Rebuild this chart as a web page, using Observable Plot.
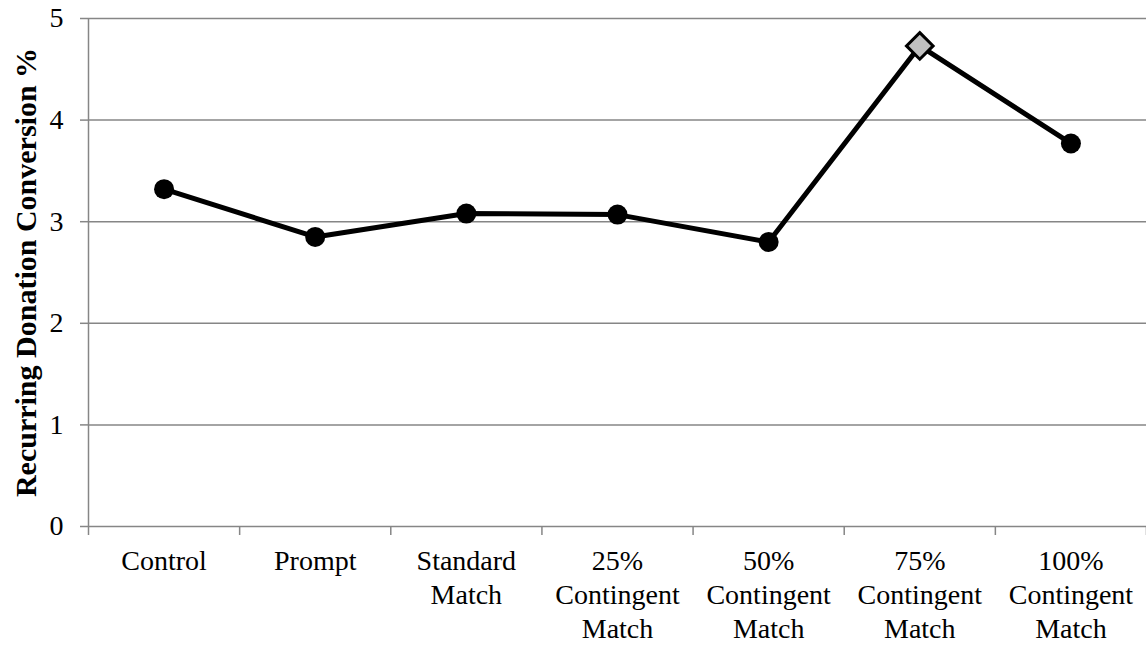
<!DOCTYPE html>
<html><head><meta charset="utf-8">
<script src="https://cdn.jsdelivr.net/npm/d3@7"></script>
<script src="https://cdn.jsdelivr.net/npm/@observablehq/plot@0.6"></script>
<style>body{margin:0;background:#fff}</style>
</head><body><div id="chart"></div>
<script>
const categories = ["Control", "Prompt", "Standard\nMatch", "25%\nContingent\nMatch", "50%\nContingent\nMatch", "75%\nContingent\nMatch", "100%\nContingent\nMatch"];
const values = [3.32, 2.85, 3.08, 3.07, 2.80, 4.73, 3.77];
const markerShapes = ["circle", "circle", "circle", "circle", "circle", "diamond", "circle"];
const yTicks = [0, 1, 2, 3, 4, 5];
const yLabel = "Recurring Donation Conversion %";

const data = categories.map((c, i) => ({category: c, pos: i + 0.5, value: values[i], shape: markerShapes[i]}));
const circles = data.filter(d => d.shape === "circle");
const diamonds = data.filter(d => d.shape === "diamond");
const font = '"Liberation Serif", "Times New Roman", serif';
const grid = "#868686";

const chart = Plot.plot({
  width: 1146, height: 645,
  marginLeft: 88, marginRight: 0, marginTop: 18, marginBottom: 119,
  style: {fontFamily: font, fontSize: "28px", color: "#000", background: "#fff", overflow: "visible"},
  x: {domain: [0, categories.length]},
  y: {domain: [0, 5]},
  marks: [
    Plot.gridY(yTicks, {stroke: grid, strokeOpacity: 1, strokeWidth: 1.5}),
    Plot.axisY(yTicks, {tickSize: 8, tickPadding: 17, stroke: grid, strokeWidth: 1.5, strokeOpacity: 1, label: null, tickFormat: d => String(d), fill: "#000"}),
    Plot.ruleX([0], {stroke: grid, strokeWidth: 1.5}),
    Plot.axisX(d3.range(categories.length + 1), {tickSize: 9, stroke: grid, strokeWidth: 1.5, strokeOpacity: 1, tickFormat: () => "", label: null}),
    Plot.axisX(data.map(d => d.pos), {tickSize: 0, tickPadding: 20, tickFormat: p => categories[Math.floor(p)], lineHeight: 1.2, label: null, fill: "#000"}),
    Plot.line(data, {x: "pos", y: "value", stroke: "#000", strokeWidth: 5}),
    Plot.dot(circles, {x: "pos", y: "value", r: 10, fill: "#000", stroke: "none"}),
    Plot.dot(diamonds, {x: "pos", y: "value", r: 12, symbol: "diamond2", fill: "#c0c0c0", stroke: "#000", strokeWidth: 3}),
    Plot.text([yLabel], {text: d => d, frameAnchor: "left", textAnchor: "middle", rotate: -90, dx: -62, lineAnchor: "middle", fontWeight: "bold", fontSize: 30, fill: "#000"})
  ]
});
document.getElementById("chart").appendChild(chart);
</script>
</body></html>
